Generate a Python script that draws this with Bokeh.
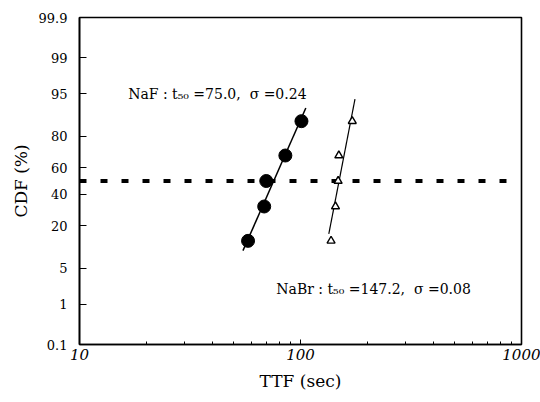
from statistics import NormalDist
from bokeh.plotting import figure
from bokeh.models import FixedTicker, Range1d, PrintfTickFormatter, Label
from bokeh.embed import file_html
from bokeh.resources import INLINE

# ---- data ----
ttf_naf = [57.9, 68.5, 70.0, 85.4, 101.0]
cdf_naf = [12.9, 31.5, 50.0, 68.5, 87.1]
ttf_nabr = [137.5, 144.0, 148.0, 149.1, 171.5]
cdf_nabr = [12.9, 31.5, 50.0, 68.5, 87.1]

naf_fit_ttf = [54.9, 105.7]
naf_fit_cdf = [9.4, 91.6]
nabr_fit_ttf = [134.3, 176.4]
nabr_fit_cdf = [15.9, 93.9]

ref_ttf = [10.0, 910.0]
ref_cdf = [50.0, 50.0]

y_tick_labels = [0.1, 1, 5, 20, 40, 60, 80, 95, 99, 99.9]
x_ticks = [10, 100, 1000]
x_minor = [20, 30, 40, 50, 60, 70, 80, 90, 200, 300, 400, 500, 600, 700, 800, 900]

naf_label = "NaF : t\u2085\u2080 =75.0,\u00a0 \u03c3 =0.24"
nabr_label = "NaBr : t\u2085\u2080 =147.2,\u00a0 \u03c3 =0.08"
naf_label_pos = (16.6, 94.9)
nabr_label_pos = (77.7, 2.1)

nd = NormalDist()
def z(p):
    return nd.inv_cdf(p / 100.0)

FONT = "DejaVu Serif"

p = figure(width=540, height=402, x_axis_type="log",
           x_range=Range1d(10, 1000), y_range=Range1d(z(0.1), z(99.9)),
           output_backend="svg", toolbar_location=None,
           min_border_left=79, min_border_right=19, min_border_top=17, min_border_bottom=58)

p.xgrid.visible = False
p.ygrid.visible = False
p.outline_line_color = "black"
p.outline_line_width = 1.6
p.background_fill_color = "white"
p.border_fill_color = "white"

# axes
xa = p.xaxis[0]
xa.ticker = FixedTicker(ticks=x_ticks, minor_ticks=x_minor)
xa.formatter = PrintfTickFormatter(format="%d")
xa.major_tick_in = 5
xa.major_tick_out = 0
xa.minor_tick_in = 3
xa.minor_tick_out = 0
xa.axis_line_width = 1.6
xa.axis_line_color = "black"
xa.major_tick_line_color = "black"
xa.minor_tick_line_color = "black"
xa.major_label_text_font = FONT
xa.major_label_text_font_style = "italic"
xa.major_label_text_font_size = "15px"
xa.major_label_text_color = "black"
xa.major_label_standoff = 4
xa.axis_label = "TTF (sec)"
xa.axis_label_text_font = FONT
xa.axis_label_text_font_style = "normal"
xa.axis_label_text_font_size = "17px"
xa.axis_label_text_color = "black"
xa.axis_label_standoff = 8

ya = p.yaxis[0]
yt = [z(v) for v in y_tick_labels]
ya.ticker = FixedTicker(ticks=yt, minor_ticks=[])
ya.major_label_overrides = {t: str(v) for t, v in zip(yt, y_tick_labels)}
ya.major_tick_in = 7
ya.major_tick_out = 0
ya.axis_line_width = 1.6
ya.axis_line_color = "black"
ya.major_tick_line_color = "black"
ya.major_label_text_font = FONT
ya.major_label_text_font_size = "13px"
ya.major_label_text_color = "black"
ya.major_label_standoff = 12
ya.axis_label = "CDF (%)"
ya.axis_label_text_font = FONT
ya.axis_label_text_font_style = "normal"
ya.axis_label_text_font_size = "17px"
ya.axis_label_text_color = "black"
ya.axis_label_standoff = 5

# 50% reference line
p.line(ref_ttf, [z(v) for v in ref_cdf], line_color="black", line_width=4,
       line_dash="7 14")

# fits
p.line(naf_fit_ttf, [z(v) for v in naf_fit_cdf], line_color="black", line_width=1.5)
p.line(nabr_fit_ttf, [z(v) for v in nabr_fit_cdf], line_color="black", line_width=1.2)

# data
p.scatter(ttf_naf, [z(v) for v in cdf_naf], marker="circle", size=13,
          fill_color="black", line_color="black")
p.scatter(ttf_nabr, [z(v) for v in cdf_nabr], marker="triangle", size=8,
          fill_color="white", line_color="black", line_width=1.4)

p.add_layout(Label(x=naf_label_pos[0], y=z(naf_label_pos[1]), text=naf_label,
                   text_font=FONT, text_font_size="14px", text_baseline="middle",
                   text_align="left", text_color="black"))
p.add_layout(Label(x=nabr_label_pos[0], y=z(nabr_label_pos[1]), text=nabr_label,
                   text_font=FONT, text_font_size="14px", text_baseline="middle",
                   text_align="left", text_color="black"))

open("out.html", "w").write(file_html(p, INLINE))
